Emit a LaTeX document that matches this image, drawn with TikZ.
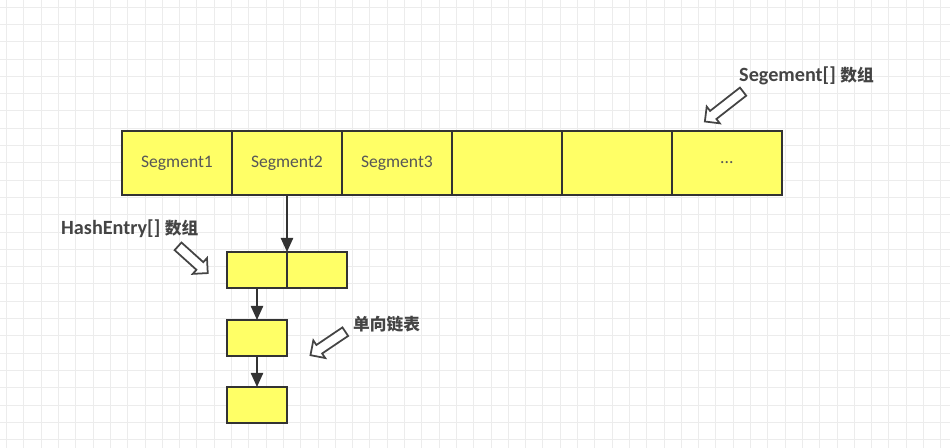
\documentclass[tikz,border=0pt]{standalone}
\usepackage{fontspec}
\setmainfont{Carlito}
\newfontfamily\cjk{Noto Sans CJK SC}
\usepackage{tikz}
\usetikzlibrary{arrows.meta, positioning, shapes.arrows}
\usepackage{xcolor}
\definecolor{cellyellow}{RGB}{255,255,102}
\definecolor{darkline}{RGB}{51,51,51}
\definecolor{labelgray}{RGB}{68,68,68}
\definecolor{gridgray}{RGB}{236,236,236}

\begin{document}
\begin{tikzpicture}[x=0.02cm, y=-0.02cm,
    cell/.style={draw=darkline, line width=0.8pt, fill=cellyellow, outer sep=0pt, inner sep=0pt,
      text=labelgray!90, font=\fontsize{10}{12}\selectfont},
    seg/.style={cell, minimum width=2.2cm, minimum height=1.28cm},
    entry/.style={cell, minimum width=1.2cm, minimum height=0.72cm},
    hint/.style={single arrow, draw=labelgray, fill=white, line width=1pt, inner sep=0.085cm,
      single arrow head extend=0.11cm},
    note/.style={text=labelgray, font=\fontsize{11.5}{13}\selectfont\bfseries},
    link/.style={darkline, line width=0.9pt, -{Triangle[length=8pt, width=7pt]}},
    node distance=0pt]
  \useasboundingbox (0,0) rectangle (950,448);
  % background grid
  \foreach \i in {0,...,54} {
    \draw[gridgray, line width=0.4pt] ({6.5+17.3*\i},0) -- ++(0,448);
  }
  \foreach \j in {0,...,25} {
    \draw[gridgray, line width=0.4pt] (0,{7+17.3*\j}) -- ++(950,0);
  }
  % Segment array
  \node[seg] (s1) at (177,163) {Segment1};
  \node[seg, right=of s1] (s2) {Segment2};
  \node[seg, right=of s2] (s3) {Segment3};
  \node[seg, right=of s3] (s4) {};
  \node[seg, right=of s4] (s5) {};
  \node[seg, right=of s5] (s6) {...};
  % HashEntry array and list
  \node[entry] (h1) at (257,270) {};
  \node[entry, right=of h1] (h2) {};
  \node[entry, below=0.64cm of h1] (e1) {};
  \node[entry, below=0.62cm of e1] (e2) {};
  \draw[link] (s2.south) -- (h1.north east);
  \draw[link] (h1.south) -- (e1.north);
  \draw[link] (e1.south) -- (e2.north);
  % labels
  \node[note, anchor=west] (segnote) at (733,76) {Segement[] {\cjk\fontsize{9.5}{12}\selectfont 数组}};
  \node[hint, minimum height=0.97cm, rotate=218] (segarrow) at (726,105) {};
  \node[note, anchor=west] (hashnote) at (55,229) {HashEntry[] {\cjk\fontsize{9.5}{12}\selectfont 数组}};
  \node[hint, minimum height=0.8cm, rotate=-42] (hasharrow) at (191,258) {};
  \node[note, anchor=west] (listnote) at (347,324) {\cjk\fontsize{9.5}{12}\selectfont 单向链表};
  \node[hint, minimum height=0.84cm, rotate=214] (listarrow) at (330,342) {};
\end{tikzpicture}
\end{document}
